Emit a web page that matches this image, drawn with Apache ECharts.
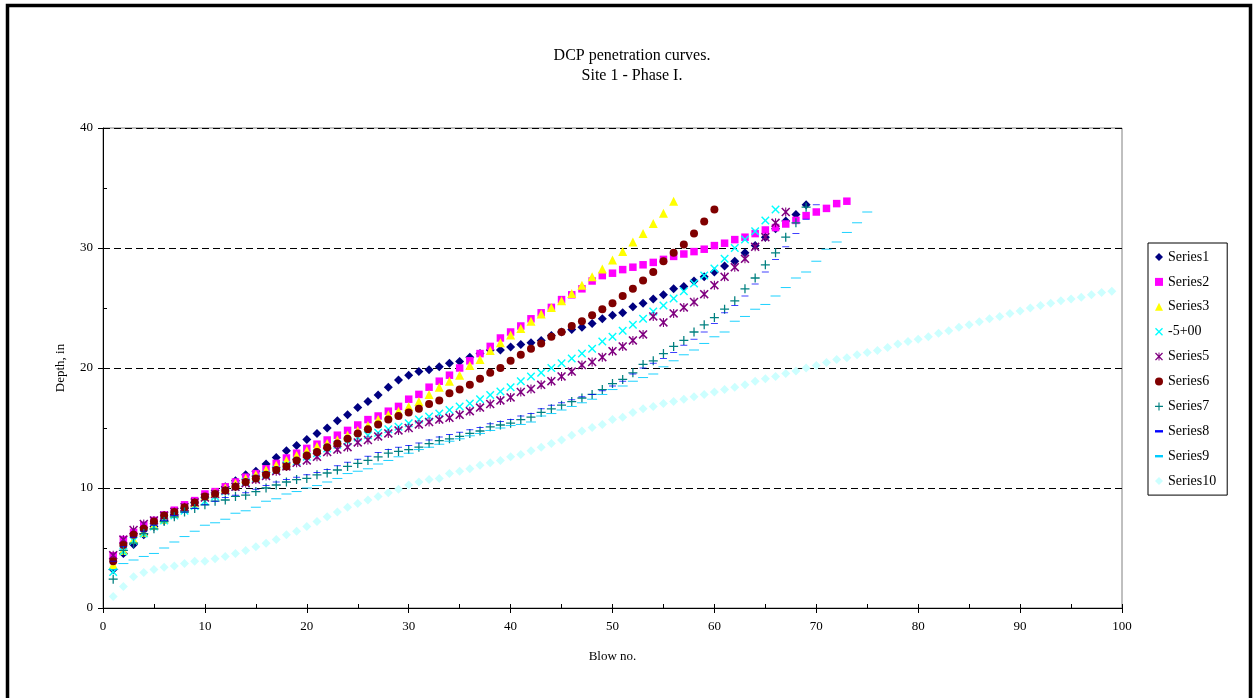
<!DOCTYPE html>
<html><head><meta charset="utf-8">
<script src="https://cdn.jsdelivr.net/npm/echarts@6/dist/echarts.min.js"></script>
<style>html,body{margin:0;padding:0;background:#fff}#c{width:1255px;height:698px}</style>
</head><body><div id="c"></div>
<script>
const titleLines = ['DCP penetration curves.', 'Site 1 - Phase I.'];
const xName = 'Blow no.';
const yName = 'Depth, in';
const seriesNames = ['Series1','Series2','Series3','-5+00','Series5','Series6','Series7','Series8','Series9','Series10'];

const s1 = [3.2,4.55,5.3,6.1,6.8,7.3,7.8,8.3,8.8,9.2,9.6,10.1,10.6,11.1,11.4,12.0,12.55,13.1,13.55,14.05,14.55,15.0,15.6,16.1,16.7,17.2,17.75,18.4,19.0,19.4,19.7,19.85,20.1,20.4,20.55,20.9,21.2,21.5,21.5,21.75,21.95,22.1,22.3,22.7,23.0,23.2,23.4,23.7,24.1,24.4,24.6,25.1,25.4,25.75,26.1,26.6,26.8,27.25,27.6,28.0,28.5,28.9,29.6,30.2,30.9,31.6,32.25,32.8,33.6];
const s2 = [4.35,5.7,6.3,6.9,7.3,7.75,8.15,8.6,8.95,9.5,9.7,10.1,10.5,10.9,11.2,11.6,12.05,12.5,12.9,13.3,13.65,14.0,14.4,14.8,15.25,15.7,16.0,16.4,16.8,17.4,17.8,18.4,18.9,19.4,20.0,20.6,21.2,21.8,22.5,23.0,23.5,24.1,24.6,25.05,25.7,26.1,26.6,27.25,27.7,27.9,28.2,28.4,28.6,28.8,29.05,29.3,29.5,29.7,29.9,30.2,30.4,30.7,30.9,31.2,31.5,31.7,32.0,32.3,32.7,33.0,33.3,33.7,33.9];
const s3 = [3.6,4.8,5.7,6.3,6.9,7.4,7.9,8.4,8.8,9.3,9.6,10.0,10.4,10.8,11.1,11.5,11.9,12.3,12.7,13.1,13.45,13.7,14.0,14.4,14.8,15.2,15.7,16.1,16.4,16.8,17.2,17.8,18.4,18.9,19.4,20.2,20.7,21.45,22.1,22.75,23.3,23.9,24.5,25.05,25.6,26.2,26.9,27.6,28.25,29.0,29.7,30.5,31.2,32.05,32.9,33.9];
const s4 = [3.0,4.7,5.6,6.2,6.8,7.3,7.7,8.1,8.5,8.9,9.3,9.7,10.1,10.5,10.8,11.1,11.5,11.9,12.2,12.6,12.9,13.3,13.6,13.9,14.2,14.4,14.6,14.9,15.1,15.4,15.7,15.95,16.2,16.5,16.8,17.05,17.4,17.75,18.05,18.4,18.9,19.3,19.6,20.0,20.4,20.8,21.2,21.6,22.2,22.6,23.1,23.6,24.1,24.7,25.2,25.8,26.4,27.05,27.7,28.3,29.1,30.0,30.7,31.4,32.3,33.2];
const s5 = [4.4,5.7,6.5,7.0,7.3,7.7,8.0,8.4,8.8,9.2,9.5,9.8,10.1,10.4,10.7,11.0,11.4,11.8,12.1,12.3,12.6,13.0,13.2,13.4,13.8,14.0,14.3,14.55,14.8,15.0,15.3,15.5,15.7,15.85,16.1,16.4,16.7,17.0,17.3,17.55,18.0,18.25,18.6,18.9,19.3,19.7,20.25,20.5,20.9,21.4,21.8,22.3,22.8,24.3,23.8,24.55,25.05,25.5,26.15,26.9,27.6,28.4,29.1,30.1,30.9,32.1,33.0];
const s6 = [3.9,5.25,6.1,6.6,7.2,7.7,8.0,8.4,8.8,9.3,9.5,9.8,10.1,10.5,10.8,11.1,11.5,11.8,12.3,12.7,13.0,13.4,13.7,14.1,14.55,14.9,15.3,15.7,16.0,16.3,16.6,17.0,17.3,17.9,18.2,18.6,19.1,19.6,20.0,20.6,21.1,21.6,22.05,22.6,23.0,23.5,23.9,24.4,24.9,25.4,26.0,26.6,27.3,28.0,28.9,29.6,30.3,31.2,32.2,33.2];
const s7 = [2.4,4.8,5.4,6.2,6.6,7.2,7.6,8.0,8.3,8.6,8.9,9.0,9.3,9.4,9.7,10.0,10.25,10.5,10.7,10.8,11.1,11.25,11.5,11.8,12.05,12.3,12.6,12.9,13.05,13.2,13.4,13.7,13.95,14.1,14.3,14.55,14.75,15.1,15.25,15.4,15.7,15.9,16.3,16.6,16.9,17.2,17.5,17.8,18.2,18.7,19.05,19.6,20.3,20.6,21.2,21.8,22.3,23.0,23.6,24.2,24.9,25.6,26.6,27.5,28.6,29.6,30.9,32.1,33.4];
const s8 = [3.9,5.1,5.9,6.4,6.9,7.3,7.7,8.0,8.3,8.6,8.9,9.2,9.4,9.6,9.9,10.2,10.5,10.7,10.9,11.1,11.3,11.55,11.85,12.15,12.4,12.65,12.95,13.2,13.4,13.55,13.75,14.0,14.25,14.45,14.65,14.85,15.05,15.35,15.55,15.7,16.0,16.2,16.6,16.9,17.1,17.35,17.6,17.8,18.1,18.5,18.9,19.5,20.0,20.4,20.8,21.3,21.9,22.4,23.0,23.7,24.6,25.2,26.0,27.0,28.0,29.05,30.1,31.2,32.4,33.6];
const s9 = [3.2,3.7,4.0,4.3,4.55,5.0,5.5,5.95,6.4,6.9,7.1,7.4,7.9,8.1,8.4,8.9,9.1,9.5,9.7,10.0,10.2,10.5,10.8,11.2,11.4,11.6,12.0,12.3,12.6,12.9,13.2,13.4,13.65,13.9,14.1,14.35,14.55,14.8,15.0,15.2,15.3,15.5,16.0,16.2,16.5,16.8,17.1,17.4,17.8,18.2,18.5,18.9,19.2,19.5,20.1,20.6,21.1,21.5,22.05,22.6,23.0,23.9,24.3,24.9,25.3,26.0,26.7,27.5,28.0,28.9,29.9,30.5,31.3,32.1,33.0];
const s10 = [0.95,1.8,2.6,2.95,3.2,3.4,3.5,3.7,3.9,3.9,4.1,4.3,4.55,4.8,5.1,5.4,5.7,6.1,6.4,6.8,7.2,7.6,8.0,8.4,8.7,9.0,9.3,9.6,9.9,10.25,10.5,10.7,10.8,11.2,11.4,11.6,11.9,12.1,12.3,12.6,12.8,13.1,13.4,13.7,14.0,14.4,14.75,15.05,15.3,15.7,15.9,16.3,16.6,16.8,17.05,17.2,17.4,17.6,17.8,18.0,18.2,18.4,18.6,18.9,19.1,19.3,19.55,19.75,20.0,20.2,20.45,20.7,20.85,21.1,21.3,21.45,21.7,22.0,22.2,22.4,22.6,22.9,23.1,23.4,23.6,23.85,24.1,24.3,24.55,24.75,25.0,25.2,25.4,25.6,25.75,25.9,26.1,26.3,26.4];

const allData = [s1,s2,s3,s4,s5,s6,s7,s8,s9,s10];
const colors = ['#000080','#FF00FF','#FFFF00','#00FFFF','#800080','#800000','#008080','#0000FF','#00CCFF','#CCFFFF'];

const X_PATH = 'path://M0,1.2L1.2,0L5,3.8L8.8,0L10,1.2L6.2,5L10,8.8L8.8,10L5,6.2L1.2,10L0,8.8L3.8,5Z';
const AST_PATH = 'path://M0,1.2L1.2,0L5,3.8L8.8,0L10,1.2L6.2,5L10,8.8L8.8,10L5,6.2L1.2,10L0,8.8L3.8,5Z M4.4,0H5.6V10H4.4Z';
const PLUS_PATH = 'path://M4.3,0H5.7V4.3H10V5.7H5.7V10H4.3V5.7H0V4.3H4.3Z';
const DASH_PATH = 'path://M0,0H10V3H0Z';
const symbols = ['diamond','rect','triangle',X_PATH,AST_PATH,'circle',PLUS_PATH,DASH_PATH,DASH_PATH,'diamond'];
const sizes = [9,7.5,9,8.5,9,8,9,[7,2.5],[10,3],9];

const FONT = "'Liberation Serif','Times New Roman',serif";

const chart = echarts.init(document.getElementById('c'), null, {renderer:'canvas'});
const series = allData.map((arr, i) => ({
  name: seriesNames[i],
  type: 'scatter',
  data: arr.map((v, k) => [k + 1, v]),
  symbol: symbols[i],
  symbolSize: sizes[i],
  symbolKeepAspect: true,
  itemStyle: {color: colors[i], opacity: 1},
  emphasis: {disabled: true},
  z: 2 + i
}));

chart.setOption({
  animation: false,
  backgroundColor: '#fff',
  title: {
    text: titleLines.join('\n'),
    left: 627, top: 41, textAlign: 'center',
    textStyle: {fontFamily: FONT, fontSize: 16, fontWeight: 'normal', color: '#000', lineHeight: 20}
  },
  graphic: [{
    type: 'rect', silent: true, z: 100,
    shape: {x: 7.5, y: 5.5, width: 1243, height: 720},
    style: {fill: 'none', stroke: '#000', lineWidth: 3.5}
  }],
  legend: {
    orient: 'vertical', left: 1148, top: 243,
    padding: [7, 11, 7, 7],
    itemWidth: 8, itemHeight: 8, itemGap: 10.9, itemTextGap: 5,
    borderColor: '#000', borderWidth: 1, backgroundColor: '#fff',
    textStyle: {fontFamily: FONT, fontSize: 14, color: '#000', lineHeight: 14},
    data: seriesNames
  },
  grid: {left: 103, top: 128, width: 1019, height: 480, show: true, borderColor: '#808080', borderWidth: 1, backgroundColor: 'transparent'},
  xAxis: [{
    type: 'value', min: 0, max: 100, interval: 10, position: 'bottom',
    name: xName, nameLocation: 'middle', nameGap: 42,
    nameTextStyle: {fontFamily: FONT, fontSize: 13, color: '#000'},
    axisLine: {show: true, onZero: false, lineStyle: {color: '#000', width: 1}},
    axisTick: {show: true, length: 5, lineStyle: {color: '#000'}},
    axisLabel: {fontFamily: FONT, fontSize: 13, color: '#000', margin: 12},
    splitLine: {show: false}
  }, {
    type: 'value', min: 0, max: 100, interval: 10, position: 'bottom',
    axisLine: {show: false}, axisLabel: {show: false},
    axisTick: {show: true, inside: true, length: 4, lineStyle: {color: '#000'}},
    minorTick: {show: true, splitNumber: 2, length: 4, lineStyle: {color: '#000'}},
    splitLine: {show: false}
  }],
  yAxis: [{
    type: 'value', min: 0, max: 40, interval: 10, position: 'left',
    name: yName, nameLocation: 'middle', nameGap: 36,
    nameTextStyle: {fontFamily: FONT, fontSize: 13, color: '#000'},
    axisLine: {show: true, onZero: false, lineStyle: {color: '#000', width: 1}},
    axisTick: {show: true, length: 5, lineStyle: {color: '#000'}},
    axisLabel: {fontFamily: FONT, fontSize: 13, color: '#000', margin: 10},
    splitLine: {show: true, lineStyle: {color: '#000', type: [7, 4], width: 1}}
  }, {
    type: 'value', min: 0, max: 40, interval: 10, position: 'left',
    axisLine: {show: false}, axisLabel: {show: false},
    axisTick: {show: true, inside: true, length: 4, lineStyle: {color: '#000'}},
    minorTick: {show: true, splitNumber: 2, length: 4, lineStyle: {color: '#000'}},
    splitLine: {show: false}
  }],
  series: series
});
</script>
</body></html>
